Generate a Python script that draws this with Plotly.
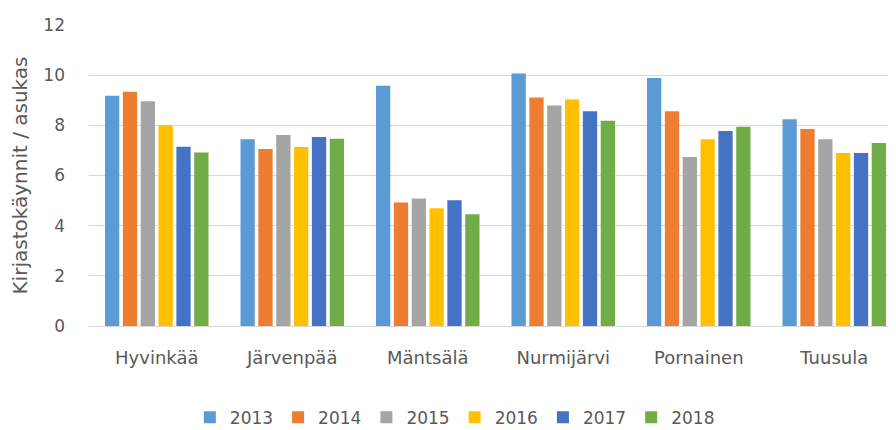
import plotly.graph_objects as go

categories = ["Hyvinkää", "Järvenpää", "Mäntsälä", "Nurmijärvi", "Pornainen", "Tuusula"]
years = ["2013", "2014", "2015", "2016", "2017", "2018"]
v2013 = [9.18, 7.45, 9.58, 10.07, 9.89, 8.24]
v2014 = [9.34, 7.06, 4.92, 9.11, 8.56, 7.85]
v2015 = [8.96, 7.61, 5.08, 8.79, 6.74, 7.45]
v2016 = [8.00, 7.14, 4.69, 9.03, 7.45, 6.90]
v2017 = [7.15, 7.53, 5.01, 8.56, 7.77, 6.90]
v2018 = [6.92, 7.47, 4.46, 8.18, 7.94, 7.30]
series = [v2013, v2014, v2015, v2016, v2017, v2018]
colors = ["#5B9BD5", "#ED7D31", "#A5A5A5", "#FFC000", "#4472C4", "#70AD47"]

font_family = "DejaVu Sans, sans-serif"
grey = "#595959"

fig = go.Figure()
for name, vals, col in zip(years, series, colors):
    fig.add_trace(go.Bar(x=categories, y=vals, name=name, marker=dict(color=col, line=dict(width=0))))

fig.update_layout(
    width=896, height=430,
    barmode="group", bargap=0.21, bargroupgap=0.2,
    plot_bgcolor="white", paper_bgcolor="white",
    margin=dict(l=81, r=2, t=17, b=108),
    font=dict(family=font_family, color=grey, size=18),
    showlegend=True,
    legend=dict(orientation="h", x=0.45, xanchor="center", y=-0.305, yanchor="middle",
                font=dict(size=17, color=grey), itemwidth=30, traceorder="normal"),
    xaxis=dict(showgrid=False, showline=True, linecolor="#D9D9D9", ticks="",
               tickfont=dict(size=18, color=grey), ticklabelstandoff=15),
    yaxis=dict(range=[0, 12], dtick=2, showgrid=True, gridcolor="#D9D9D9", zeroline=False,
               showline=False, ticks="", tickfont=dict(size=17, color=grey), ticklabelstandoff=23,
               title=dict(text="Kirjastokäynnit / asukas", font=dict(size=20, color=grey), standoff=12)),
)

fig.write_html("out.html")
